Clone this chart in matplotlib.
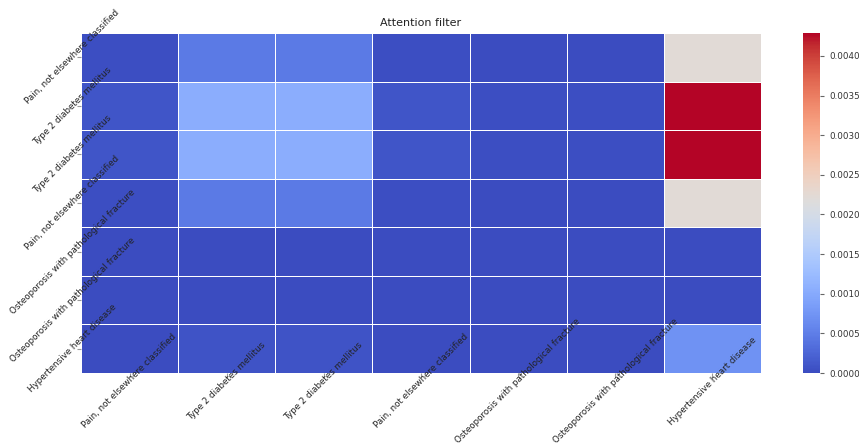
import numpy as np
import matplotlib
matplotlib.use("Agg")
import matplotlib.pyplot as plt
import seaborn as sns

labels = [
    "Pain, not elsewhere classified",
    "Type 2 diabetes mellitus",
    "Type 2 diabetes mellitus",
    "Pain, not elsewhere classified",
    "Osteoporosis with pathological fracture",
    "Osteoporosis with pathological fracture",
    "Hypertensive heart disease",
]

row_pain_a = [0.00002, 0.00046, 0.00046, 0.00002, 0.00001, 0.00001, 0.00222]
row_t2d_a = [0.00009, 0.00104, 0.00104, 0.00009, 0.00002, 0.00002, 0.00429]
row_t2d_b = [0.00009, 0.00104, 0.00104, 0.00009, 0.00002, 0.00002, 0.00429]
row_pain_b = [0.00002, 0.00046, 0.00046, 0.00002, 0.00001, 0.00001, 0.00222]
row_osteo_a = [0.00000, 0.00000, 0.00000, 0.00000, 0.00000, 0.00000, 0.00001]
row_osteo_b = [0.00000, 0.00000, 0.00000, 0.00000, 0.00000, 0.00000, 0.00001]
row_heart = [0.00001, 0.00007, 0.00007, 0.00001, 0.00000, 0.00000, 0.00072]

attention = np.array([row_pain_a, row_t2d_a, row_t2d_b, row_pain_b,
                      row_osteo_a, row_osteo_b, row_heart])

fig = plt.figure(figsize=(8.59, 4.47), dpi=100)
ax = fig.add_axes([0.0943, 0.1655, 0.7917, 0.7607])
cax = fig.add_axes([0.935, 0.1655, 0.020, 0.7607])

sns.heatmap(attention, cmap="coolwarm", linewidths=0.6, linecolor="white",
            ax=ax, cbar_ax=cax, xticklabels=labels, yticklabels=labels)

ax.set_title("Attention filter", fontsize=8, color="#222222", pad=5)
ax.set_xticklabels(labels, rotation=45, ha="center", va="center",
                   fontsize=6.3, color="#222222")
ax.set_yticklabels(labels, rotation=45, ha="center", va="center",
                   fontsize=6.3, color="#222222")
ax.tick_params(axis="both", length=3, color="#999999", pad=3)

cax.tick_params(labelsize=6.3, length=3, color="#666666", labelcolor="#333333")
cax.set_yticks([0, 0.0005, 0.001, 0.0015, 0.002, 0.0025, 0.003, 0.0035, 0.004])
cax.set_yticklabels([f"{v:.4f}" for v in cax.get_yticks()])

fig.savefig("out.png", dpi=100)
